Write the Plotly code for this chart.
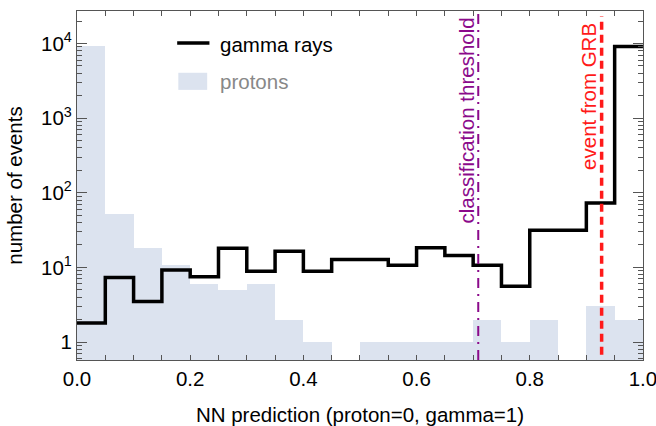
import plotly.graph_objects as go

# ---- data ----
bin_edges = [round(0.05 * i, 2) for i in range(21)]
bin_centers = [round(0.025 + 0.05 * i, 3) for i in range(20)]
gamma_counts = [1.8, 7.3, 3.5, 9.2, 7.5, 18, 8.9, 16.5, 8.9, 12.8,
                12.8, 10.7, 18.3, 14.4, 10.7, 5.6, 31.4, 31.4, 73, 9100]
proton_counts = [9200, 52, 18, 10.8, 6, 5, 6, 2, 1, 0,
                 1, 1, 1, 1, 2, 1, 2, 0, 3, 2]
threshold = 0.709
grb_event = 0.927
x_tick_vals = [0.0, 0.2, 0.4, 0.6, 0.8, 1.0]
y_tick_vals = [1, 10, 100, 1000, 10000]
y_tick_text = ["1", "10<sup>1</sup>", "10<sup>2</sup>", "10<sup>3</sup>", "10<sup>4</sup>"]

FONT = "Liberation Sans, Arial, Helvetica, sans-serif"
FS = 20.5
AX = "#555555"

fig = go.Figure()

fig.add_trace(go.Bar(
    x=bin_centers,
    y=[v if v > 0 else None for v in proton_counts],
    width=0.05,
    marker=dict(color="#dce3ef", line=dict(width=0)),
    name="protons",
    showlegend=False,
))

fig.add_trace(go.Scatter(
    x=bin_edges,
    y=gamma_counts + [gamma_counts[-1]],
    mode="lines",
    line=dict(color="black", width=3.5, shape="hv"),
    name="gamma rays",
    showlegend=False,
))

# vertical lines
fig.add_shape(type="line", xref="x", yref="paper", x0=threshold, x1=threshold, y0=0, y1=1,
              line=dict(color="#8b0a8b", width=2, dash="10px,6px,2px,6px"))
fig.add_shape(type="line", xref="x", yref="paper", x0=grb_event, x1=grb_event, y0=0.015, y1=0.985,
              line=dict(color="#ff1a1a", width=3.5, dash="8px,5px"))

fig.add_annotation(text="classification threshold", x=0.688, xref="x", y=0.988, yref="paper",
                   textangle=-90, xanchor="center", yanchor="top", showarrow=False,
                   font=dict(family=FONT, size=FS, color="#8b0a8b"))
fig.add_annotation(text="event from GRB", x=0.904, xref="x", y=0.972, yref="paper",
                   textangle=-90, xanchor="center", yanchor="top", showarrow=False,
                   font=dict(family=FONT, size=FS, color="#ff1a1a"))

# manual legend
fig.add_shape(type="line", xref="paper", yref="paper", x0=0.177, x1=0.234, y0=0.908, y1=0.908,
              line=dict(color="black", width=3.5))
fig.add_shape(type="rect", xref="paper", yref="paper", x0=0.179, x1=0.230, y0=0.774, y1=0.823,
              fillcolor="#dce3ef", line=dict(width=0))
fig.add_annotation(text="gamma rays", xref="paper", yref="paper", x=0.249, y=0.905,
                   xanchor="left", yanchor="middle", showarrow=False,
                   font=dict(family=FONT, size=FS, color="black"))
fig.add_annotation(text="protons", xref="paper", yref="paper", x=0.249, y=0.797,
                   xanchor="left", yanchor="middle", showarrow=False,
                   font=dict(family=FONT, size=FS, color="#888888"))

minor_y = [m * 10 ** e for e in range(-1, 5) for m in range(2, 10)]

fig.update_layout(
    width=656, height=426,
    margin=dict(l=77, r=13, t=11, b=66, autoexpand=False),
    paper_bgcolor="white", plot_bgcolor="white",
    bargap=0,
    font=dict(family=FONT, size=FS, color="black"),
    xaxis=dict(
        range=[0, 1.0001], tickvals=x_tick_vals, tickformat=".1f",
        ticks="inside", ticklen=5, tickcolor=AX, tickwidth=1,
        minor=dict(dtick=0.05, tick0=0, ticks="inside", ticklen=5, tickcolor=AX),
        showline=True, linecolor=AX, linewidth=1.2, mirror="ticks",
        showgrid=False, zeroline=False, automargin=False,
        ticklabeloverflow="allow",
        title=dict(text="NN prediction (proton=0, gamma=1)", font=dict(size=FS), standoff=20),
        tickfont=dict(size=FS),
    ),
    yaxis=dict(
        type="log", range=[-0.2405, 4.4355],
        tickvals=y_tick_vals, ticktext=y_tick_text,
        ticks="inside", ticklen=10, tickcolor=AX, tickwidth=1,
        minor=dict(tickmode="array", tickvals=minor_y, ticks="inside", ticklen=5, tickcolor=AX),
        showline=True, linecolor=AX, linewidth=1.2, mirror="ticks",
        showgrid=False, zeroline=False, automargin=False,
        ticklabeloverflow="allow",
        title=dict(text="number of events", font=dict(size=FS), standoff=12),
        tickfont=dict(size=FS),
    ),
)

fig.write_html("out.html",
               config={"displayModeBar": False},
               post_script="document.body.style.margin='0';document.body.style.overflow='hidden';")
